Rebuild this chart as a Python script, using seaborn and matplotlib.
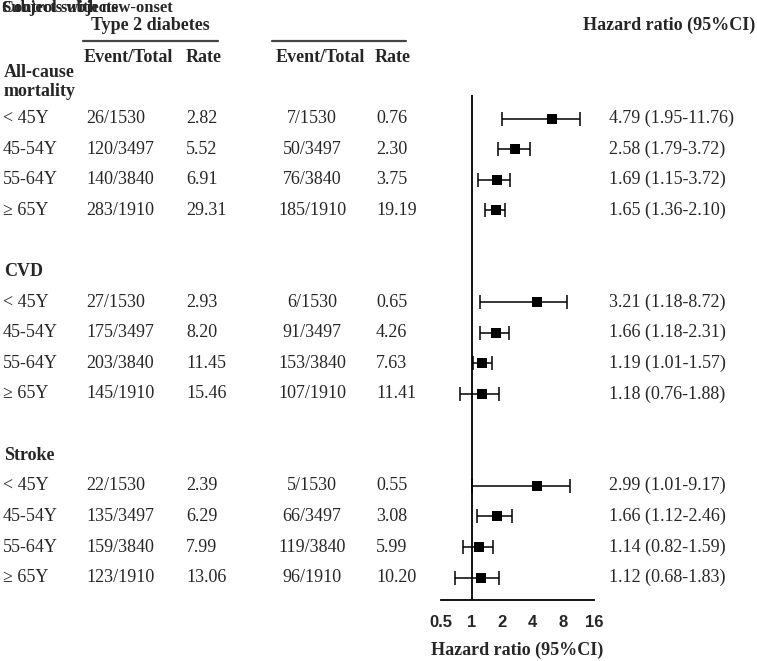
import pandas as pd
import matplotlib.pyplot as plt
import matplotlib.transforms as mtransforms
from matplotlib.lines import Line2D
import seaborn as sns

W, H = 757, 661

outcomes = ["All-cause\nmortality", "CVD", "Stroke"]
age_groups = ["< 45Y", "45-54Y", "55-64Y", "≥ 65Y"]

t2d_events = ["26/1530", "120/3497", "140/3840", "283/1910",
              "27/1530", "175/3497", "203/3840", "145/1910",
              "22/1530", "135/3497", "159/3840", "123/1910"]
t2d_rates = ["2.82", "5.52", "6.91", "29.31",
             "2.93", "8.20", "11.45", "15.46",
             "2.39", "6.29", "7.99", "13.06"]
ctrl_events = ["7/1530", "50/3497", "76/3840", "185/1910",
               "6/1530", "91/3497", "153/3840", "107/1910",
               "5/1530", "66/3497", "119/3840", "96/1910"]
ctrl_rates = ["0.76", "2.30", "3.75", "19.19",
              "0.65", "4.26", "7.63", "11.41",
              "0.55", "3.08", "5.99", "10.20"]
hr_labels = ["4.79 (1.95-11.76)", "2.58 (1.79-3.72)", "1.69 (1.15-3.72)", "1.65 (1.36-2.10)",
             "3.21 (1.18-8.72)", "1.66 (1.18-2.31)", "1.19 (1.01-1.57)", "1.18 (0.76-1.88)",
             "2.99 (1.01-9.17)", "1.66 (1.12-2.46)", "1.14 (0.82-1.59)", "1.12 (0.68-1.83)"]

# where the markers sit in the figure (not always the printed numbers)
hr_point = [6.2, 2.7, 1.76, 1.72, 4.4, 1.73, 1.26, 1.28, 4.4, 1.76, 1.19, 1.23]
hr_low = [1.97, 1.80, 1.15, 1.35, 1.20, 1.20, 1.03, 0.77, 1.01, 1.13, 0.83, 0.69]
hr_high = [11.7, 3.73, 2.41, 2.11, 8.7, 2.34, 1.58, 1.88, 9.2, 2.47, 1.61, 1.84]

xticks = [0.5, 1, 2, 4, 8, 16]


def main():
    sns.set_style("white")
    plt.rcParams['font.family'] = ['Liberation Serif', 'DejaVu Serif']

    rows = []
    for g, outcome in enumerate(outcomes):
        for i, age in enumerate(age_groups):
            rows.append({"outcome": outcome, "age": age, "slot": g * 6 + 1 + i})
    df = pd.DataFrame(rows)
    df["hr"] = hr_point
    df["lo"] = hr_low
    df["hi"] = hr_high

    fig = plt.figure(figsize=(W / 100, H / 100), dpi=100)
    ax = fig.add_axes([441 / W, 61 / H, 153 / W, 512 / H])
    ax.set_xscale('log', base=2)
    ax.set_xlim(0.5, 16)
    ax.set_ylim(512 / 30.6, 0)

    ax.errorbar(df["hr"], df["slot"], xerr=[df["hr"] - df["lo"], df["hi"] - df["hr"]],
                fmt='none', ecolor='black', elinewidth=1.1, capsize=5, capthick=1.1, zorder=2)
    sns.scatterplot(data=df, x="hr", y="slot", marker='s', s=50, color='black',
                    edgecolor='black', linewidth=0, ax=ax, zorder=3, legend=False)
    ax.vlines(1, 0.23, 512 / 30.6, color='black', lw=1.3, clip_on=False)

    for side in ['top', 'right', 'left']:
        ax.spines[side].set_visible(False)
    ax.spines['bottom'].set_linewidth(1.3)
    ax.spines['bottom'].set_color('black')
    ax.set_yticks([])
    ax.set_xticks(xticks)
    ax.set_xticklabels([str(t) for t in xticks], family=['Liberation Sans'],
                       fontweight='bold', fontsize=12)
    ax.xaxis.set_minor_locator(plt.NullLocator())
    ax.tick_params(axis='x', direction='out', length=6, width=1.3, pad=5, color='black')
    ax.set_xlabel("Hazard ratio (95%CI)", fontsize=13, fontweight='bold', labelpad=8)
    ax.set_ylabel("")

    trans = mtransforms.blended_transform_factory(fig.transFigure, ax.transData)
    kw = dict(transform=trans, va='center', fontsize=13, clip_on=False)
    for idx, r in df.iterrows():
        k = r["slot"]
        ax.text(3 / W, k, r["age"], ha='left', **kw)
        ax.text(86 / W, k, t2d_events[idx], ha='left', **kw)
        ax.text(186 / W, k, t2d_rates[idx], ha='left', **kw)
        ax.text(312 / W, k, ctrl_events[idx], ha='center', **kw)
        ax.text(376 / W, k, ctrl_rates[idx], ha='left', **kw)
        ax.text(609 / W, k, hr_labels[idx], ha='left', **kw)

    ax.text(4 / W, -0.21, outcomes[0], ha='left', fontweight='bold', linespacing=1.15, **kw)
    ax.text(4 / W, 6, outcomes[1], ha='left', fontweight='bold', **kw)
    ax.text(4 / W, 12, outcomes[2], ha='left', fontweight='bold', **kw)

    # header block
    def fy(px):
        return 1 - px / H

    # the two header labels sit on top of each other, as in the source
    fig.text(2 / W, fy(8), "Subjects with new-onset", fontsize=12, fontweight='bold', va='center')
    fig.text(2 / W, fy(8), "Control subjects", fontsize=12, fontweight='bold', va='center')
    fig.text(150 / W, fy(25), "Type 2 diabetes", fontsize=13, fontweight='bold', va='center', ha='center')
    fig.text(755 / W, fy(25), "Hazard ratio (95%CI)", fontsize=13, fontweight='bold', va='center', ha='right')
    fig.add_artist(Line2D([83 / W, 218 / W], [fy(41), fy(41)], color='#444444', lw=1.6))
    fig.add_artist(Line2D([272 / W, 406 / W], [fy(41), fy(41)], color='#444444', lw=1.6))
    for x, s in [(84, "Event/Total"), (186, "Rate"), (276, "Event/Total"), (375, "Rate")]:
        fig.text(x / W, fy(57), s, fontsize=13, fontweight='bold', va='center', ha='left')

    fig.savefig("out.png", dpi=100)
    plt.close(fig)


if __name__ == '__main__':
    main()
